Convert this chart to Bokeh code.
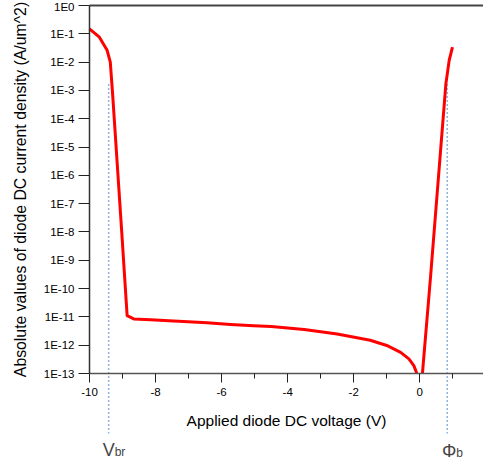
from bokeh.plotting import figure
from bokeh.models import FixedTicker, CustomJSTickFormatter, Label, LinearAxis
from bokeh.embed import file_html
from bokeh.resources import INLINE

# ---- data ----
# reverse branch: |J| (A/um^2) vs applied voltage (V)
v_rev = [-10.0, -9.70, -9.47, -9.37, -9.30, -9.02, -8.86, -8.66, -8.15, -7.45,
         -6.44, -5.73, -5.03, -4.50, -3.50, -2.50, -1.50, -1.00, -0.58, -0.33,
         -0.18, -0.09]
j_rev = [1.5e-1, 7.6e-2, 2.7e-2, 1.0e-2, 7.6e-4, 8.5e-9, 1.1e-11, 8.5e-12, 7.9e-12, 7.1e-12,
         6.2e-12, 5.4e-12, 4.9e-12, 4.6e-12, 3.6e-12, 2.5e-12, 1.5e-12, 9.8e-13, 5.6e-13, 3.3e-13,
         1.9e-13, 1.0e-13]
# forward branch
v_fwd = [0.08, 0.33, 0.63, 0.79, 0.89, 0.99]
j_fwd = [1.0e-13, 3.0e-10, 7.6e-6, 1.7e-3, 1.15e-2, 3.4e-2]

# marker voltages
V_BR = -9.42
PHI_B = 0.83
marker_top = 1.7e-3
marker_bottom = 7.6e-16

x_major = [-10, -8, -6, -4, -2, 0, 2]
x_tick_labels = ["-10", "-8", "-6", "-4", "-2", "0", "2"]
x_minor = [-9, -7, -5, -3, -1, 1]
y_ticks = [1e0, 1e-1, 1e-2, 1e-3, 1e-4, 1e-5, 1e-6, 1e-7, 1e-8, 1e-9, 1e-10, 1e-11, 1e-12, 1e-13]
y_tick_labels = ["1E0", "1E-1", "1E-2", "1E-3", "1E-4", "1E-5", "1E-6", "1E-7", "1E-8",
                 "1E-9", "1E-10", "1E-11", "1E-12", "1E-13"]

X_MIN, X_MAX = -10, 1.929
Y_MIN, Y_MAX = 1e-13, 1e0

FONT = "Liberation Sans"

# frame covers the whole canvas; axes are pinned at data locations
p = figure(width=483, height=461, x_range=(-12.694, X_MAX), y_range=(10 ** -16.108, 10 ** 0.1766),
           y_axis_type="log", output_backend="svg", toolbar_location=None,
           min_border_left=0, min_border_right=0, min_border_top=0, min_border_bottom=0)
p.outline_line_color = None
p.grid.visible = False
p.background_fill_color = "white"
p.border_fill_color = "white"

# x axis placed at 1E-13
xa = p.xaxis[0]
xa.fixed_location = Y_MIN
xa.bounds = (X_MIN, X_MAX)
xa.ticker = FixedTicker(ticks=x_major, minor_ticks=x_minor)
xa.major_label_overrides = dict(zip(x_major, x_tick_labels))
xa.axis_line_color = "#555555"
xa.axis_line_width = 1.5
xa.major_tick_out = 9
xa.major_tick_in = 0
xa.minor_tick_out = 5
xa.minor_tick_in = 0
xa.major_tick_line_color = "#222222"
xa.minor_tick_line_color = "#222222"
xa.major_label_text_font = FONT
xa.major_label_text_font_size = "11.5px"
xa.major_label_text_color = "black"
xa.major_label_standoff = 5
xa.axis_label = "Applied diode DC voltage (V)"
xa.axis_label_text_font = FONT
xa.axis_label_text_font_size = "15.5px"
xa.axis_label_text_font_style = "normal"
xa.axis_label_text_color = "black"
xa.axis_label_standoff = 13

# top line at 1E0
ta = LinearAxis(fixed_location=Y_MAX, bounds=(X_MIN, X_MAX),
                ticker=FixedTicker(ticks=[]), axis_line_color="#444444", axis_line_width=2,
                major_tick_line_color=None, minor_tick_line_color=None,
                major_label_text_color=None)
p.add_layout(ta, "above")

ya = p.yaxis[0]
ya.fixed_location = X_MIN
ya.bounds = (Y_MIN, Y_MAX)
ya.ticker = FixedTicker(ticks=y_ticks)
ya.formatter = CustomJSTickFormatter(args=dict(vals=y_ticks, labels=y_tick_labels), code="""
    const lt = Math.log10(tick);
    for (let i = 0; i < vals.length; i++) {
        if (Math.abs(Math.log10(vals[i]) - lt) < 1e-6) return labels[i];
    }
    return "";
""")
ya.axis_line_color = "#333333"
ya.axis_line_width = 1.5
ya.major_tick_out = 11
ya.major_tick_in = 0
ya.minor_tick_line_color = None
ya.major_tick_line_color = "#222222"
ya.major_label_text_font = FONT
ya.major_label_text_font_size = "11.5px"
ya.major_label_text_color = "black"
ya.major_label_standoff = 4
ya.axis_label = "Absolute values of diode DC current density (A/um^2)"
ya.axis_label_text_font = FONT
ya.axis_label_text_font_size = "15.8px"
ya.axis_label_text_font_style = "normal"
ya.axis_label_text_color = "black"
ya.axis_label_standoff = 12

# dotted marker lines
dot = "#8DB3E2"
p.segment(x0=[V_BR, PHI_B], y0=[marker_top, marker_top], x1=[V_BR, PHI_B], y1=[marker_bottom, marker_bottom],
          line_color=dot, line_width=1.5, line_dash="2 2")

# curves
p.line(v_rev, j_rev, line_color="#FF0000", line_width=3, line_join="round")
p.line(v_fwd, j_fwd, line_color="#FF0000", line_width=3, line_join="round")

# labels
p.add_layout(Label(x=V_BR, y=Y_MIN, y_offset=-76, text="V", text_align="center",
                   text_baseline="alphabetic", text_font=FONT, text_font_size="18px"))
p.add_layout(Label(x=V_BR, y=Y_MIN, y_offset=-78, x_offset=6, text="br", text_align="left",
                   text_baseline="alphabetic", text_font=FONT, text_font_size="12px"))
p.add_layout(Label(x=PHI_B, y=Y_MIN, y_offset=-77, x_offset=2, text="Φ", text_align="center",
                   text_baseline="alphabetic", text_font=FONT, text_font_size="18px"))
p.add_layout(Label(x=PHI_B, y=Y_MIN, y_offset=-79, x_offset=9, text="b", text_align="left",
                   text_baseline="alphabetic", text_font=FONT, text_font_size="12px"))

open("out.html", "w").write(file_html(p, INLINE))
